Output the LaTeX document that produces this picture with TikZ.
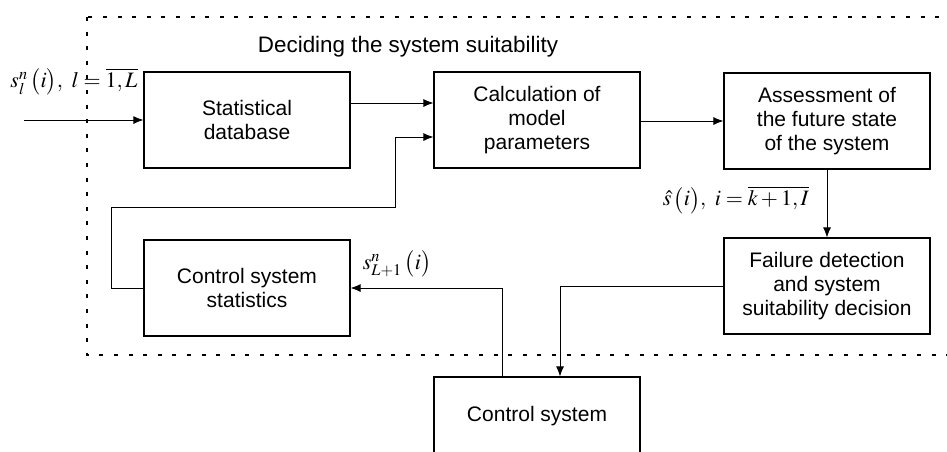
\documentclass[tikz,border=0pt]{standalone}
\usepackage{mathptmx}
\usepackage[no-math]{fontspec}
\setmainfont{Liberation Sans}
\usetikzlibrary{arrows.meta}

\begin{document}
\begin{tikzpicture}[x=0.5pt,y=-0.5pt,
		blok/.style={draw,line width=0.6pt,minimum width=103pt,minimum height=48pt,
			align=center,inner sep=0pt,font=\fontsize{10.5}{11.8}\selectfont},
		con/.style={line width=0.4pt,-{Latex[length=5pt,width=4pt]}},
		lbl/.style={inner sep=0pt,font=\fontsize{11}{13}\selectfont}]
				\useasboundingbox (0,0) rectangle (947,451);
				\clip (0,0) rectangle (947,451);
				% border of the deciding part
				\draw[line width=0.8pt,dash pattern=on 2pt off 5.3pt] (87,17) rectangle (1000,355);
				\node[font=\fontsize{11.2}{13}\selectfont] (title) at (408,47) {Deciding the system suitability};
				\node[blok] (stat) at (247,120) {Statistical\\database};
				\node[blok] (calc) at (537,120) {Calculation of\\model\\parameters};
				\node[blok] (asse) at (827,121) {Assessment of\\the future state\\of the system};
				\node[blok] (fail) at (827,286) {Failure detection\\and system\\suitability decision};
				\node[blok] (stst) at (247,288) {Control system\\statistics};
				\node[blok,minimum height=39pt] (ctrl) at (537,416) {Control system};
				% input data
				\coordinate (in) at (24,120);
				\draw[con] (in) -- (stat.west);
				\node[lbl] (sin) at (74,82) {$s_l^n\,\bigl(i\bigr),\ l=\overline{1,L}$};
				\draw[con] ([yshift=8.5pt]stat.east) -- ([yshift=8.5pt]calc.west);
				\draw[con] (calc.east |- asse) -- (asse.west);
				\draw[con] (asse.south) -- (fail.north);
				\node[lbl] (shat) at (736,200) {$\hat{s}\,\bigl(i\bigr),\ i=\overline{k+1,I}$};
				% feedback loop
				\draw[con] (fail.west) -| ([xshift=11.5pt]ctrl.north);
				\draw[con] ([xshift=-17.5pt]ctrl.north) |- (stst.east);
				\node[lbl] (snext) at (397,264) {$s^n_{L+1}\,\bigl(i\bigr)$};
				\draw[con] (stst.west) -- (111,288) -- (111,207) -- (395,207) |- ([yshift=-8.5pt]calc.west);
			\end{tikzpicture}
\end{document}
